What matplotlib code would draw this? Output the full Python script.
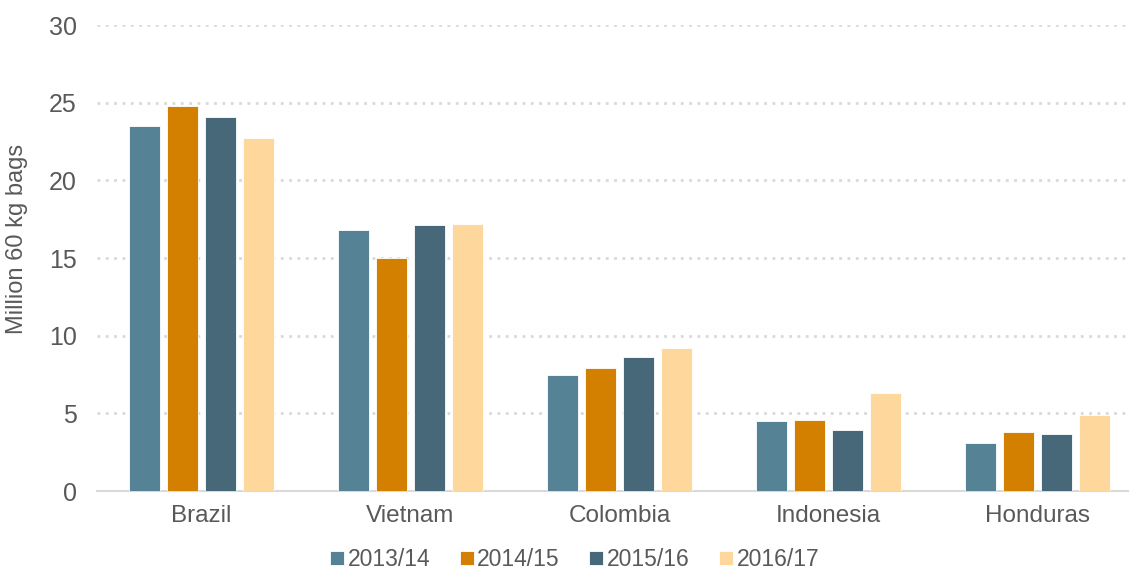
import matplotlib.pyplot as plt
import numpy as np

plt.rcParams['font.family'] = ['Liberation Sans', 'DejaVu Sans']

countries = ['Brazil', 'Vietnam', 'Colombia', 'Indonesia', 'Honduras']
seasons = ['2013/14', '2014/15', '2015/16', '2016/17']
v2013 = [23.5, 16.8, 7.5, 4.5, 3.1]
v2014 = [24.8, 15.0, 7.9, 4.6, 3.8]
v2015 = [24.1, 17.1, 8.6, 3.9, 3.7]
v2016 = [22.7, 17.2, 9.2, 6.3, 4.9]
colors = ['#568296', '#D38000', '#466878', '#FDD79B']

fig = plt.figure(figsize=(11.29, 5.71), dpi=100)
ax = fig.add_axes([0.0859, 0.1401, 0.9256, 0.816])

x = np.arange(len(countries))
pitch = 0.182
width = 0.146
for i, (vals, lab) in enumerate(zip([v2013, v2014, v2015, v2016], seasons)):
    ax.bar(x + (i - 1.5) * pitch, vals, width, color=colors[i], label=lab,
           edgecolor='white', linewidth=0.6, zorder=3)

ax.set_xlim(-0.5, 4.5)
ax.set_ylim(0, 30)
ax.set_yticks([0, 5, 10, 15, 20, 25, 30])
ax.set_xticks(x)
ax.set_xticklabels(countries)
ax.yaxis.grid(True, linestyle=(0, (1, 2)), color='#D9D9D9', linewidth=2, zorder=0)
for s in ['top', 'right', 'left']:
    ax.spines[s].set_visible(False)
ax.spines['bottom'].set_color('#D9D9D9')
ax.spines['bottom'].set_linewidth(1.5)
ax.tick_params(axis='both', length=0, colors='#595959')
ax.tick_params(axis='x', pad=10, labelsize=17.5)
ax.tick_params(axis='y', pad=14.5, labelsize=18)
ax.set_ylabel('Million 60 kg bags', fontsize=17, color='#595959')
ax.yaxis.set_label_coords(-0.066, 0.54)

leg = fig.legend(loc='center', bbox_to_anchor=(0.509, 0.02), ncol=4, frameon=False,
                 fontsize=16.5, handlelength=0.6, handleheight=0.6, handletextpad=0.15,
                 columnspacing=1.3, labelcolor='#595959')

fig.savefig('out.png', dpi=100)
